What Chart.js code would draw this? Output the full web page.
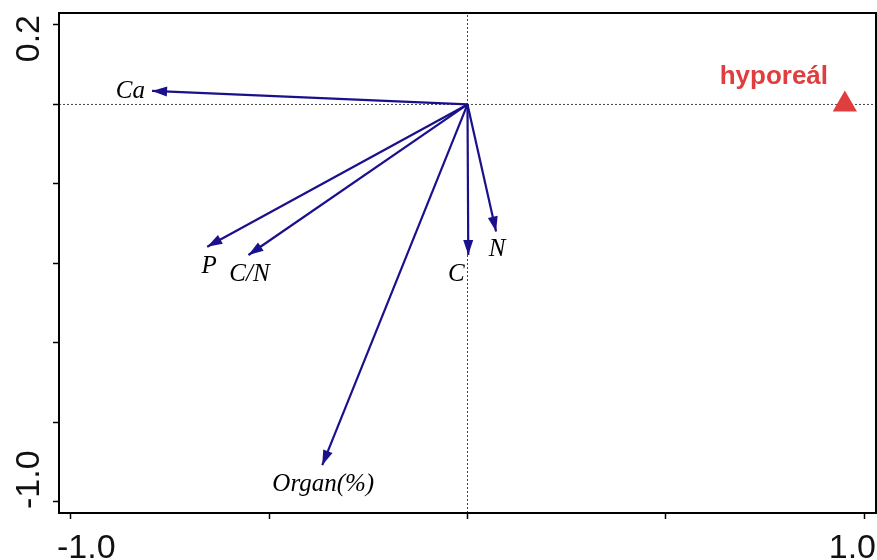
<!DOCTYPE html>
<html>
<head>
<meta charset="utf-8">
<script src="https://cdn.jsdelivr.net/npm/chart.js@4.4.1/dist/chart.umd.min.js"></script>
<style>
  html, body { margin: 0; padding: 0; background: #fff; overflow: hidden; }
  canvas { display: block; }
</style>
</head>
<body>
<canvas id="biplot" width="877" height="560"></canvas>
<script>
// environmental variables: arrow tips on ordination axes 1 and 2
const varNames = ['Ca', 'P', 'C/N', 'C', 'N', 'Organ(%)'];
const varAxis1 = [-0.795, -0.656, -0.552, 0.002, 0.072, -0.366];
const varAxis2 = [0.034, -0.358, -0.379, -0.379, -0.320, -0.908];

// habitat centroid
const siteNames = ['hyporeál'];
const siteAxis1 = [0.951];
const siteAxis2 = [0.0];

// axes
const xTicks = [-1.0, -0.5, 0, 0.5, 1.0];
const yTicks = [0.2, 0, -0.2, -0.4, -0.6, -0.8, -1.0];
const xTickLabels = ['-1.0', '1.0'];
const yTickLabels = ['0.2', '-1.0'];
const X_MIN = -1.0295, X_MAX = 1.0295;
const Y_MIN = -1.0284, Y_MAX = 0.2302;

// where each arrow label sits relative to its arrow tip (px), and its alignment
const labelPlace = {
  'Ca':       { dx: -7,  dy: 7,  align: 'right' },
  'P':        { dx: 2,   dy: 26, align: 'center' },
  'C/N':      { dx: 1,   dy: 26, align: 'center' },
  'C':        { dx: -12, dy: 26, align: 'center' },
  'N':        { dx: 1,   dy: 24, align: 'center' },
  'Organ(%)': { dx: 1,   dy: 26, align: 'center' }
};

const ARROW_COLOR = '#1a108c';
const SITE_COLOR = '#e03e3e';

const datasets = [];

siteNames.forEach((name, i) => {
  datasets.push({
    kind: 'site',
    label: name,
    data: [{ x: siteAxis1[i], y: siteAxis2[i] }],
    pointStyle: 'triangle',
    pointRadius: 14,
    backgroundColor: SITE_COLOR,
    borderColor: SITE_COLOR,
    borderWidth: 0,
    order: 1
  });
});

varNames.forEach((name, i) => {
  datasets.push({
    kind: 'arrow',
    label: name,
    data: [{ x: 0, y: 0 }, { x: varAxis1[i], y: varAxis2[i] }],
    showLine: true,
    borderColor: ARROW_COLOR,
    borderWidth: 2.2,
    pointRadius: 0,
    order: 2
  });
});

// dotted zero lines through the origin
datasets.push({
  kind: 'ref',
  data: [{ x: X_MIN, y: 0 }, { x: X_MAX, y: 0 }],
  showLine: true, borderColor: '#444', borderWidth: 1, borderDash: [2, 2], pointRadius: 0, order: 3
});
datasets.push({
  kind: 'ref',
  data: [{ x: 0, y: Y_MIN }, { x: 0, y: Y_MAX }],
  showLine: true, borderColor: '#444', borderWidth: 1, borderDash: [2, 2], pointRadius: 0, order: 3
});

const biplotDecor = {
  id: 'biplotDecor',
  afterDatasetsDraw(chart) {
    const ctx = chart.ctx;
    const ca = chart.chartArea;
    ctx.save();

    chart.data.datasets.forEach((ds, i) => {
      const meta = chart.getDatasetMeta(i);
      if (ds.kind === 'arrow') {
        const p0 = meta.data[0], p1 = meta.data[1];
        const ang = Math.atan2(p1.y - p0.y, p1.x - p0.x);
        const L = 15, W = 5;
        const bx = p1.x - L * Math.cos(ang), by = p1.y - L * Math.sin(ang);
        ctx.fillStyle = ARROW_COLOR;
        ctx.beginPath();
        ctx.moveTo(p1.x, p1.y);
        ctx.lineTo(bx + W * Math.sin(ang), by - W * Math.cos(ang));
        ctx.lineTo(bx - W * Math.sin(ang), by + W * Math.cos(ang));
        ctx.closePath();
        ctx.fill();

        const pl = labelPlace[ds.label];
        ctx.font = 'italic 25px "Liberation Serif", "Times New Roman", serif';
        ctx.fillStyle = '#000';
        ctx.textAlign = pl.align;
        ctx.textBaseline = 'alphabetic';
        ctx.fillText(ds.label, p1.x + pl.dx, p1.y + pl.dy);
      } else if (ds.kind === 'site') {
        const p = meta.data[0];
        ctx.font = 'bold 26px "Liberation Sans", Arial, sans-serif';
        ctx.fillStyle = SITE_COLOR;
        ctx.textAlign = 'center';
        ctx.textBaseline = 'alphabetic';
        ctx.fillText(ds.label, p.x - 71, p.y - 20);
      }
    });

    // plot frame
    ctx.strokeStyle = '#000';
    ctx.lineWidth = 2;
    ctx.strokeRect(ca.left, ca.top, ca.right - ca.left, ca.bottom - ca.top);

    // end tick labels, kept inside the frame span
    ctx.font = '34px "Liberation Sans", Arial, sans-serif';
    ctx.fillStyle = '#111';
    ctx.textBaseline = 'alphabetic';
    ctx.textAlign = 'left';
    ctx.fillText(xTickLabels[0], ca.left - 2, 558);
    ctx.textAlign = 'right';
    ctx.fillText(xTickLabels[1], ca.right, 558);

    ctx.save();
    ctx.translate(38.5, ca.top + 2);
    ctx.rotate(-Math.PI / 2);
    ctx.textAlign = 'right';
    ctx.fillText(yTickLabels[0], 0, 0);
    ctx.restore();

    ctx.save();
    ctx.translate(38.5, ca.bottom - 4);
    ctx.rotate(-Math.PI / 2);
    ctx.textAlign = 'left';
    ctx.fillText(yTickLabels[1], 0, 0);
    ctx.restore();

    ctx.restore();
  }
};

const tickGrid = { drawOnChartArea: false, drawTicks: true, tickLength: 6, tickColor: '#000', tickWidth: 1.5 };

new Chart(document.getElementById('biplot'), {
  type: 'scatter',
  data: { datasets },
  options: {
    responsive: false,
    animation: false,
    layout: { autoPadding: false, padding: { left: 59, top: 13, right: 1, bottom: 47 } },
    plugins: { legend: { display: false }, tooltip: { enabled: false } },
    scales: {
      x: {
        type: 'linear', min: X_MIN, max: X_MAX,
        afterBuildTicks: s => { s.ticks = xTicks.map(v => ({ value: v })); },
        afterFit: s => { s.height = 0; },
        ticks: { display: false },
        grid: tickGrid,
        border: { display: false }
      },
      y: {
        type: 'linear', min: Y_MIN, max: Y_MAX,
        afterBuildTicks: s => { s.ticks = yTicks.map(v => ({ value: v })); },
        afterFit: s => { s.width = 0; },
        ticks: { display: false },
        grid: tickGrid,
        border: { display: false }
      }
    }
  },
  plugins: [biplotDecor]
});
</script>
</body>
</html>
